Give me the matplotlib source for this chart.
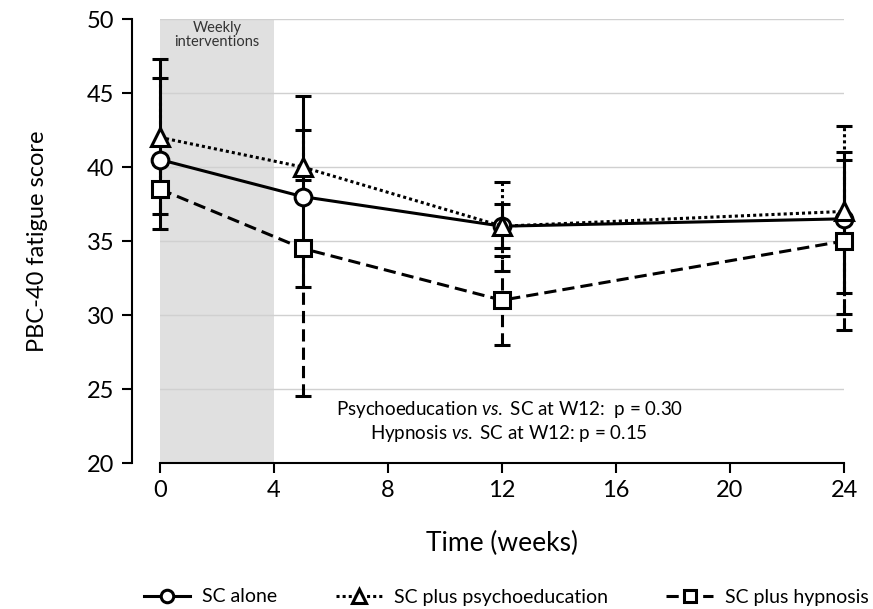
import numpy as np
import matplotlib
matplotlib.use("Agg")
import matplotlib.pyplot as plt

plt.rcParams['font.family'] = ['Lato', 'DejaVu Sans']
plt.rcParams['mathtext.fontset'] = 'custom'
plt.rcParams['mathtext.rm'] = 'Lato'
plt.rcParams['mathtext.it'] = 'Lato:italic'

# data
weeks = [0, 5, 12, 24]
labels = ["SC alone", "SC plus psychoeducation", "SC plus hypnosis"]

sc_mean = [40.5, 38.0, 36.0, 36.5]
sc_low = [35.8, 31.9, 34.5, 31.5]
sc_high = [47.3, 44.8, 37.5, 41.0]

psy_mean = [42.0, 40.0, 36.0, 37.0]
psy_low = [38.0, 39.1, 33.0, 30.1]
psy_high = [46.0, 42.5, 39.0, 42.8]

hyp_mean = [38.5, 34.5, 31.0, 35.0]
hyp_low = [36.8, 24.5, 28.0, 29.0]
hyp_high = [40.2, 35.0, 34.0, 40.5]

xticks = [0, 4, 8, 12, 16, 20, 24]
yticks = [20, 25, 30, 35, 40, 45, 50]

fig = plt.figure(figsize=(8.73, 6.09), dpi=100)
ax = fig.add_axes([0.1833, 0.2397, 0.7835, 0.7291])

# shaded intervention period
ax.axvspan(0, 4, color='#e0e0e0', zorder=0, lw=0)
ax.text(2, 49.85, "Weekly\ninterventions", ha='center', va='top', fontsize=10.5,
        color='#333333', linespacing=1.0)

for y in yticks[1:]:
    ax.axhline(y, color='#d0d0d0', lw=1, zorder=0.5)

series = [
    (sc_mean, sc_low, sc_high, '-', 'o', 12),
    (psy_mean, psy_low, psy_high, (0, (1, 1)), '^', 13),
    (hyp_mean, hyp_low, hyp_high, (0, (4, 2)), 's', 11),
]

handles = []
for (m, lo, hi, ls, mk, ms), lab in zip(series, labels):
    m = np.array(m)
    yerr = [m - np.array(lo), np.array(hi) - m]
    eb = ax.errorbar(weeks, m, yerr=yerr, fmt='none', ecolor='black',
                     elinewidth=2.2, capsize=6, capthick=2.2, zorder=2)
    for c in eb[2]:
        c.set_linestyle(ls)
        c.set_clip_on(False)
    for c in eb[1]:
        c.set_clip_on(False)
    ln, = ax.plot(weeks, m, linestyle=ls, color='black', lw=2.2,
                  marker=mk, markersize=ms, markerfacecolor='white',
                  markeredgecolor='black', markeredgewidth=2.2,
                  zorder=3, clip_on=False, label=lab)
    handles.append(ln)

ax.text(12.25, 23.65, "Psychoeducation $\\it{vs.}$ SC at W12:  p = 0.30",
        ha='center', va='center', fontsize=13.5)
ax.text(12.25, 22.0, "Hypnosis $\\it{vs.}$ SC at W12: p = 0.15",
        ha='center', va='center', fontsize=13.5)

ax.set_xlim(0, 24)
ax.set_ylim(20, 50)
ax.set_xticks(xticks)
ax.set_yticks(yticks)
ax.tick_params(axis='both', labelsize=17, width=1.5, length=7, color='black')
ax.tick_params(axis='y', pad=6)
ax.tick_params(axis='x', pad=5)
ax.spines['left'].set_position(('outward', 20))
ax.spines['top'].set_visible(False)
ax.spines['right'].set_visible(False)
for s in ['left', 'bottom']:
    ax.spines[s].set_linewidth(1.5)

ax.set_ylabel("PBC-40 fatigue score", fontsize=17, labelpad=28)
ax.set_xlabel("Time (weeks)", fontsize=19, labelpad=22)

fig.legend(handles=handles, loc='center', bbox_to_anchor=(506 / 873, 1 - 597 / 609),
           ncol=3, frameon=False, fontsize=14, handlelength=2.4,
           columnspacing=3.0, handletextpad=0.6, markerscale=0.75)

fig.savefig("out.png", dpi=100)
